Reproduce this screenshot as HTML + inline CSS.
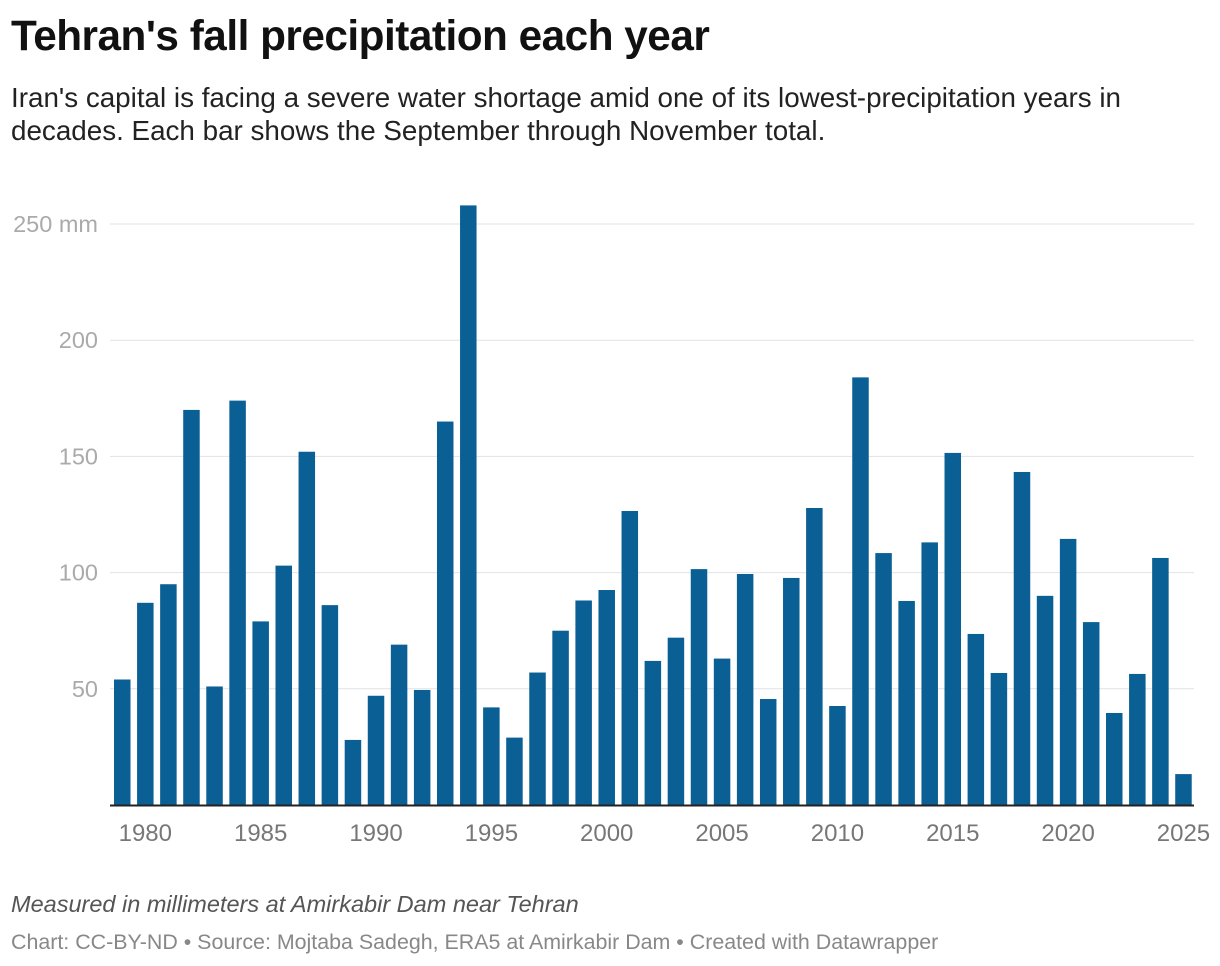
<!DOCTYPE html>
<html><head><meta charset="utf-8"><style>
body{margin:0;width:1220px;height:966px;background:#fff;font-family:"Liberation Sans",sans-serif;overflow:hidden;position:relative}
#title{position:absolute;left:11px;top:12px;font-size:42.3px;font-weight:bold;color:#111;letter-spacing:-0.5px}
#sub{position:absolute;left:11px;top:81px;font-size:27.8px;line-height:33px;color:#222;width:1160px}
#note{position:absolute;left:11px;top:891px;font-size:23.5px;font-style:italic;color:#555}
#foot{position:absolute;left:11px;top:930px;font-size:21.4px;color:#888}
svg{position:absolute;left:0;top:0}
</style></head><body>
<div id="title">Tehran's fall precipitation each year</div>
<div id="sub">Iran's capital is facing a severe water shortage amid one of its lowest-precipitation years in decades. Each bar shows the September through November total.</div>
<svg id="chart" width="1220" height="966"></svg>
<div id="note">Measured in millimeters at Amirkabir Dam near Tehran</div>
<div id="foot">Chart: CC-BY-ND • Source: Mojtaba Sadegh, ERA5 at Amirkabir Dam • Created with Datawrapper</div>
<script>
const years=[1979,1980,1981,1982,1983,1984,1985,1986,1987,1988,1989,1990,1991,1992,1993,1994,1995,1996,1997,1998,1999,2000,2001,2002,2003,2004,2005,2006,2007,2008,2009,2010,2011,2012,2013,2014,2015,2016,2017,2018,2019,2020,2021,2022,2023,2024,2025];
const values=[54,87,95,170,51,174,79,103,152,86,28,47,69,49.5,165,258,42,29,57,75,88,92.5,126.5,62,72,101.5,63,99.4,45.6,97.7,127.8,42.6,184,108.4,87.8,113,151.5,73.6,56.8,143.3,90,114.5,78.7,39.6,56.4,106.3,13.3];
const yTicks=[50,100,150,200,250];
const xTickYears=[1980,1985,1990,1995,2000,2005,2010,2015,2020,2025];
const svg=document.getElementById('chart');const NS='http://www.w3.org/2000/svg';
const y0=805,pxPer=581/250,x0=114,step=23.07,bw=16.5;
const yS=v=>y0-v*pxPer;
const xS=yr=>x0+(yr-years[0])*step;
function mk(t,a){const e=document.createElementNS(NS,t);for(const k in a)e.setAttribute(k,a[k]);svg.appendChild(e);return e;}
yTicks.forEach(v=>{
 const l=mk('line',{x1:110,x2:1194,y1:yS(v),y2:yS(v),stroke:'#e2e2e2','stroke-width':1});
 
 
 const t=mk('text',{x:98,y:yS(v)+8,'text-anchor':'end','font-size':23.5,fill:'#aaa','font-family':'Liberation Sans, sans-serif'});
 t.textContent=v===250?'250 mm':String(v);
 
 
});
years.forEach((yr,i)=>{
 const r=mk('rect',{x:xS(yr),y:yS(values[i]),width:bw,height:values[i]*pxPer,fill:'#0a5f94'});
 
 
});
const ax=mk('line',{x1:110,x2:1194,y1:y0+0.5,y2:y0+0.5,stroke:'#222','stroke-width':2});


xTickYears.forEach(yr=>{
 const t=mk('text',{x:xS(yr)+bw/2,y:841,'text-anchor':'middle','font-size':24,fill:'#777','font-family':'Liberation Sans, sans-serif'});
 t.textContent=String(yr);
 
 
});
</script>
</body></html>
